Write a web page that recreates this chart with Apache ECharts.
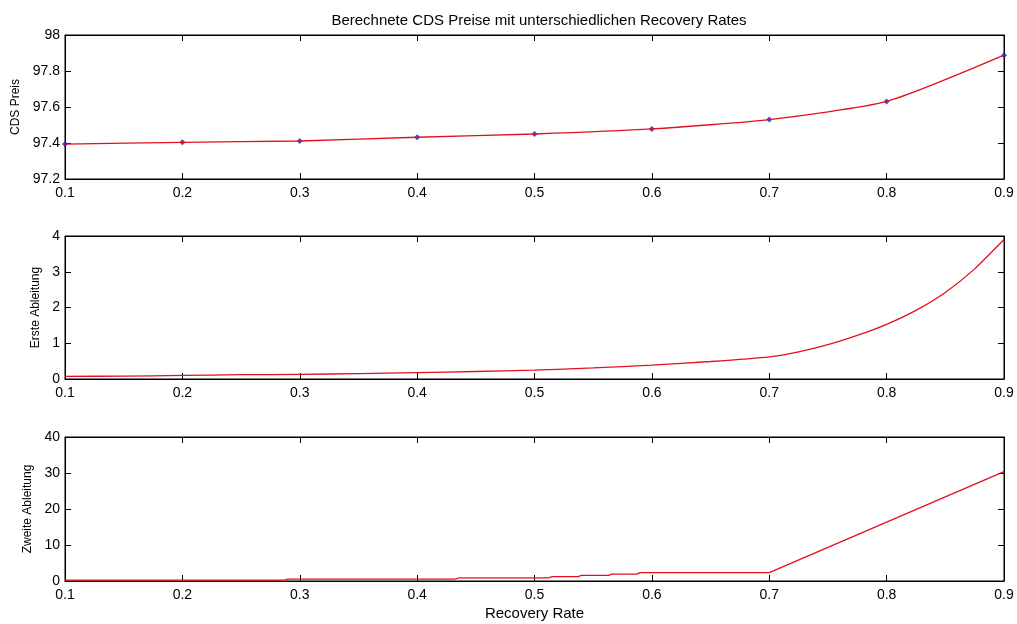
<!DOCTYPE html>
<html>
<head>
<meta charset="utf-8">
<script src="https://cdn.jsdelivr.net/npm/echarts@6/dist/echarts.min.js"></script>
<style>
  html, body { margin: 0; background: #fff; }
  #chart { width: 1017px; height: 624px; }
</style>
</head>
<body>
<div id="chart"></div>
<script>
// Werte
var recovery = [0.1, 0.2, 0.3, 0.4, 0.5, 0.6, 0.7, 0.8, 0.9];
var cdsPreis = [97.394, 97.404, 97.411, 97.432, 97.450, 97.478, 97.530, 97.631, 97.888];

var ersteX = [0.1, 0.15, 0.2, 0.25, 0.3, 0.35, 0.4, 0.45, 0.5, 0.55, 0.6, 0.65, 0.7, 0.725, 0.75, 0.775, 0.8, 0.825, 0.85, 0.875, 0.9];
var ersteY = [0.075, 0.08, 0.1, 0.12, 0.13, 0.15, 0.18, 0.21, 0.25, 0.31, 0.39, 0.49, 0.62, 0.76, 0.96, 1.22, 1.53, 1.92, 2.42, 3.08, 3.9];

var zweiteX = [0.1, 0.287, 0.29, 0.432, 0.436, 0.512, 0.515, 0.537, 0.54, 0.563, 0.566, 0.587, 0.59, 0.7, 0.9];
var zweiteY = [0.25, 0.25, 0.5, 0.5, 0.85, 0.85, 1.2, 1.2, 1.55, 1.55, 1.9, 1.9, 2.3, 2.3, 30.4];

var yNames = ['CDS Preis', 'Erste Ableitung', 'Zweite Ableitung'];
var yMin = [97.2, 0, 0];
var yMax = [98, 4, 40];
var yStep = [0.2, 1, 10];
var nameGaps = [40, 20, 26];
var gridTops = [35, 236, 437];
var gridHeights = [144, 143, 144];

var red = '#e3101c';
var font = "'Liberation Sans', Arial, sans-serif";

function pairs(xs, ys) {
  return xs.map(function (x, i) { return [x, ys[i]]; });
}

var myChart = echarts.init(document.getElementById('chart'));

var grids = [], xAxes = [], yAxes = [];
for (var i = 0; i < 3; i++) {
  grids.push({
    left: 65, right: 13, top: gridTops[i], height: gridHeights[i],
    show: true, borderColor: '#000', borderWidth: 1, backgroundColor: '#fff'
  });
  // unten mit Beschriftung
  xAxes.push({
    type: 'value', gridIndex: i, position: 'bottom',
    min: 0.1, max: 0.9, interval: 0.1,
    axisLine: { show: true, onZero: false, lineStyle: { color: '#000' } },
    axisTick: { show: true, inside: true, length: 6, lineStyle: { color: '#000' } },
    axisLabel: { color: '#000', fontFamily: font, fontSize: 14, margin: 7 },
    splitLine: { show: false },
    name: i === 2 ? 'Recovery Rate' : '',
    nameLocation: 'middle', nameGap: 25,
    nameTextStyle: { color: '#000', fontFamily: font, fontSize: 15 }
  });
  // oben nur Striche
  xAxes.push({
    type: 'value', gridIndex: i, position: 'top',
    min: 0.1, max: 0.9, interval: 0.1,
    axisLine: { show: true, onZero: false, lineStyle: { color: '#000' } },
    axisTick: { show: true, inside: true, length: 6, lineStyle: { color: '#000' } },
    axisLabel: { show: false },
    splitLine: { show: false }
  });
  yAxes.push({
    type: 'value', gridIndex: i, position: 'left',
    min: yMin[i], max: yMax[i], interval: yStep[i],
    axisLine: { show: true, onZero: false, lineStyle: { color: '#000' } },
    axisTick: { show: true, inside: true, length: 6, lineStyle: { color: '#000' } },
    axisLabel: { color: '#000', fontFamily: font, fontSize: 14, margin: 5 },
    splitLine: { show: false },
    name: yNames[i], nameLocation: 'middle', nameRotate: 90, nameGap: nameGaps[i],
    nameTextStyle: { color: '#000', fontFamily: font, fontSize: 12 }
  });
  yAxes.push({
    type: 'value', gridIndex: i, position: 'right',
    min: yMin[i], max: yMax[i], interval: yStep[i],
    axisLine: { show: true, onZero: false, lineStyle: { color: '#000' } },
    axisTick: { show: true, inside: true, length: 6, lineStyle: { color: '#000' } },
    axisLabel: { show: false },
    splitLine: { show: false }
  });
}

var option = {
  backgroundColor: '#fff',
  animation: false,
  title: {
    text: 'Berechnete CDS Preise mit unterschiedlichen Recovery Rates',
    left: 534, top: 8, textAlign: 'center',
    textStyle: { color: '#000', fontFamily: font, fontSize: 15, fontWeight: 'normal' }
  },
  grid: grids,
  xAxis: xAxes,
  yAxis: yAxes,
  series: [
    {
      type: 'line', xAxisIndex: 0, yAxisIndex: 0,
      data: pairs(recovery, cdsPreis), smooth: 0.2,
      showSymbol: false, lineStyle: { color: red, width: 1.3 }
    },
    {
      type: 'scatter', xAxisIndex: 0, yAxisIndex: 0,
      data: pairs(recovery, cdsPreis), symbol: 'diamond', symbolSize: 6,
      itemStyle: { color: '#2a1ab0' }
    },
    {
      type: 'line', xAxisIndex: 2, yAxisIndex: 2,
      data: pairs(ersteX, ersteY), smooth: 0.2,
      showSymbol: false, lineStyle: { color: red, width: 1.3 }
    },
    {
      type: 'line', xAxisIndex: 4, yAxisIndex: 4,
      data: pairs(zweiteX, zweiteY),
      showSymbol: false, lineStyle: { color: red, width: 1.3 }
    }
  ]
};

myChart.setOption(option);
window.addEventListener('resize', function () { myChart.resize(); });
</script>
</body>
</html>
